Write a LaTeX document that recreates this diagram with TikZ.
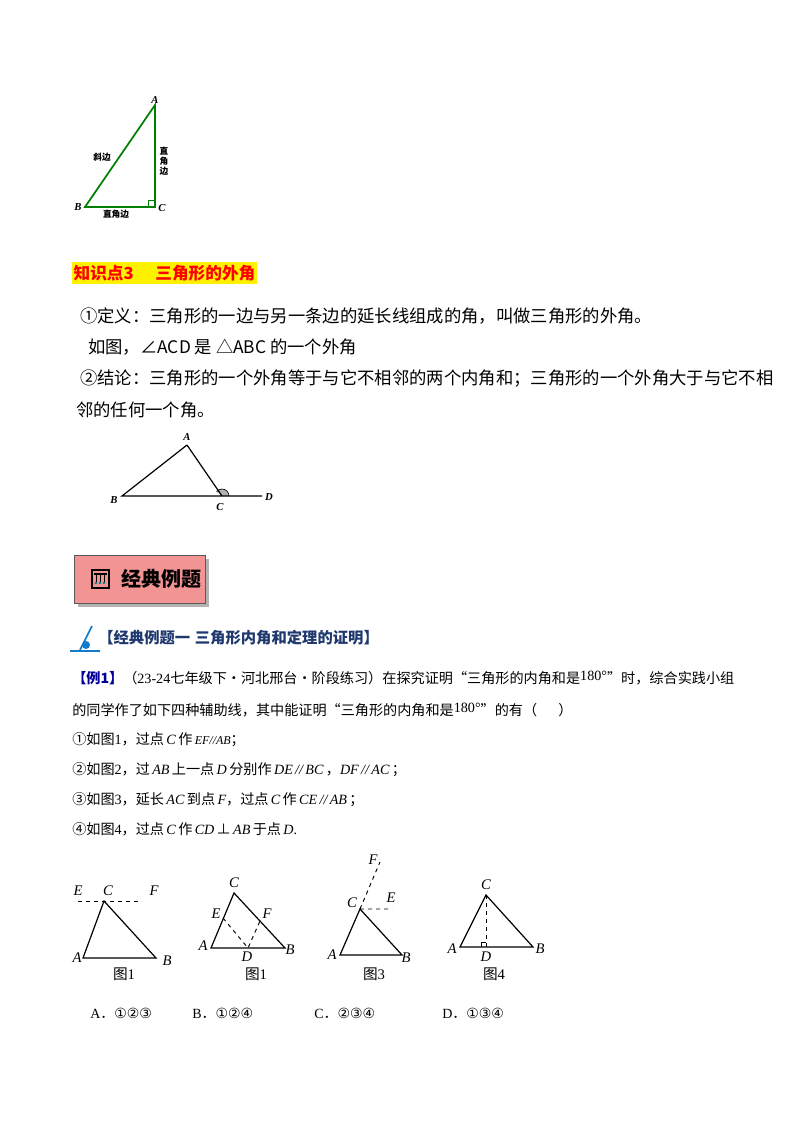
\documentclass[tikz,border=0pt]{standalone}
\usepackage{fontspec}
\setmainfont{Liberation Serif}
\newfontfamily\cjk{Noto Sans CJK SC}
\newfontfamily\sym{DejaVu Sans}
\newfontfamily\lat{Liberation Serif}
\newcommand\myit[1]{{\lat\itshape #1}}
\newcommand\myup[1]{{\lat #1}}
\begin{document}
\begin{tikzpicture}[x=0.75pt,y=-0.75pt,
  lab/.style={font=\fontsize{11}{11}\selectfont\itshape,inner sep=0pt},
  smlab/.style={font=\fontsize{8}{8}\selectfont\bfseries\itshape,inner sep=0pt},
  txt/.style={font=\fontsize{13}{13}\cjk,anchor=west,inner sep=0pt},
  etxt/.style={font=\fontsize{10.6}{12}\cjk,anchor=west,inner sep=0pt},
  tri/.style={draw=black,line width=0.9pt},
  dsh/.style={draw=black,dashed,line width=0.7pt}]
\useasboundingbox (0,0) rectangle (800,1132);
% figure 1: right triangle
\coordinate (A1) at (155,105); \coordinate (B1) at (85,207); \coordinate (C1) at (155,207);
\draw[green!50!black,line width=1.3pt] (A1)--(B1)--(C1)--cycle;
\draw[green!50!black,line width=0.5pt] (148,207)--(148,200)--(155,200);
\node[smlab] (la1) at (155,100) {A};
\node[smlab] (lb1) at (78,207) {B};
\node[smlab] (lc1) at (162,208) {C};
\node[font=\fontsize{6.5}{6.5}\cjk\bfseries,inner sep=0pt] (t1) at (102,157) {斜边};
\node[font=\fontsize{6.5}{7.5}\cjk\bfseries,inner sep=0pt,align=center] (t2) at (164,161) {直\\角\\边};
\node[font=\fontsize{6.5}{6.5}\cjk\bfseries,inner sep=0pt] (t3) at (116,214) {直角边};
% heading
\node[fill=yellow,text=red,font=\fontsize{12.5}{13}\cjk\bfseries,anchor=west,inner xsep=1pt,inner ysep=2pt] (h3) at (72,273) {知识点3\hspace{1.3em}三角形的外角};
\node[txt] (l1) at (80,316) {①定义：三角形的一边与另一条边的延长线组成的角，叫做三角形的外角。};
\node[txt] (l2) at (88,347) {如图，∠ACD 是 △ABC 的一个外角};
\node[txt] (l3) at (80,379) {②结论：三角形的一个外角等于与它不相邻的两个内角和；三角形的一个外角大于与它不相};
\node[txt] (l4) at (76,410) {邻的任何一个角。};
% figure 2
\coordinate (A2) at (187,445); \coordinate (B2) at (122,496); \coordinate (C2) at (222,496); \coordinate (D2) at (262,496);
\fill[gray!60] (222,496) -- (229,496) arc (0:-142:7) -- cycle;
\draw[line width=0.5pt] (229,496) arc (0:-142:7);
\draw[tri] (A2)--(B2)--(D2) (A2)--(C2);
\node[smlab] (la2) at (187,437) {A};
\node[smlab] (lb2) at (114,500) {B};
\node[smlab] (lc2) at (220,507) {C};
\node[smlab] (ld2) at (269,497) {D};
% box
\fill[gray!60] (78,559) rectangle (209,607);
\node[draw=gray!70!black,fill={rgb,255:red,242;green,148;blue,148},minimum width=131*0.75pt,minimum height=48*0.75pt,anchor=north west,inner sep=0pt] (box) at (74,555) {};
\node[font=\fontsize{15}{15}\cjk\bfseries,anchor=west,inner sep=0pt] (boxt) at (121,579) {经典例题};
\draw[line width=0.8pt] (92,570) rectangle (109,588) (94,574)--(107,574);
\foreach \x in {96,100,104}{\draw[line width=0.5pt] (\x,574)--(\x,582); \fill[teal] (\x,583) circle (1.3);}
% section heading
\draw[line width=1.2pt,cyan!60!blue] (80,650)--(92,626) (70,651)--(100,651);
\fill[cyan!60!blue] (86,645) circle (4);
\node[font=\fontsize{11.5}{12}\cjk\bfseries,text={rgb,255:red,31;green,56;blue,110},anchor=west,inner sep=0pt] (sh) at (98,638) {【经典例题一\hspace{0.3em}三角形内角和定理的证明】};
% example text
\node[etxt] (e1) at (72,678) {{\color{blue!60!black}\bfseries 【例1】}（\myup{23-24}七年级下·河北邢台·阶段练习）在探究证明“三角形的内角和是\raisebox{2pt}{\myup{180°}}”时，综合实践小组};
\node[etxt] (e2) at (72,710) {的同学作了如下四种辅助线，其中能证明“三角形的内角和是\raisebox{2pt}{\myup{180°}}”的有（\hspace{1.5em}）};
\node[etxt] (e3) at (72,740) {①如图\myup{1}，过点\,\myit{C}\,作\,{\fontsize{9}{9}\selectfont\myit{EF//AB}}；};
\node[etxt] (e4) at (72,770) {②如图\myup{2}，过\,\myit{AB}\,上一点\,\myit{D}\,分别作\,\myit{DE\,//\,BC}\,，\myit{DF\,//\,AC}\,；};
\node[etxt] (e5) at (72,800) {③如图\myup{3}，延长\,\myit{AC}\,到点\,\myit{F}，过点\,\myit{C}\,作\,\myit{CE\,//\,AB}\,；};
\node[etxt] (e6) at (72,829) {④如图\myup{4}，过点\,\myit{C}\,作\,\myit{CD}\,⊥\,\myit{AB}\,于点\,\myit{D}\myup{.}};
% fig a
\coordinate (Aa) at (83,958); \coordinate (Ba) at (156,958); \coordinate (Ca) at (104,901);
\coordinate (Ea) at (78,901); \coordinate (Fa) at (140,901);
\draw[dsh] (Ea)--(Fa);
\draw[tri] (Aa)--(Ba)--(Ca)--cycle;
\node[lab] (lEa) at (78,891) {E}; \node[lab] (lCa) at (108,891) {C}; \node[lab] (lFa) at (154,891) {F};
\node[lab] (lAa) at (77,958) {A}; \node[lab] (lBa) at (167,961) {B};
\node[font=\fontsize{11}{11}\selectfont,inner sep=0pt] (ga) at (124,974) {{\cjk 图}1};
% fig b
\coordinate (Ab) at (211,948); \coordinate (Bb) at (285,948); \coordinate (Cb) at (234,893);
\coordinate (Db) at (248,948); \coordinate (Eb) at (223,918); \coordinate (Fb) at (260,921);
\draw[dsh] (Eb)--(Db)--(Fb);
\draw[tri] (Ab)--(Bb)--(Cb)--cycle;
\node[lab] (lCb) at (234,883) {C}; \node[lab] (lEb) at (216,914) {E}; \node[lab] (lFb) at (267,914) {F};
\node[lab] (lAb) at (203,946) {A}; \node[lab] (lDb) at (247,957) {D}; \node[lab] (lBb) at (290,950) {B};
\node[font=\fontsize{11}{11}\selectfont,inner sep=0pt] (gb) at (256,974) {{\cjk 图}1};
% fig c
\coordinate (Ac) at (340,955); \coordinate (Bc) at (402,955); \coordinate (Cc) at (360,909);
\coordinate (Fc) at (380,862); \coordinate (Ec) at (392,909);
\draw[dsh] (Cc)--(Fc) (Cc)--(Ec);
\draw[tri] (Ac)--(Bc)--(Cc)--cycle;
\node[lab] (lFc) at (373,860) {F}; \node[lab] (lEc) at (391,898) {E}; \node[lab] (lCc) at (352,903) {C};
\node[lab] (lAc) at (332,955) {A}; \node[lab] (lBc) at (406,958) {B};
\node[font=\fontsize{11}{11}\selectfont,inner sep=0pt] (gc) at (374,974) {{\cjk 图}3};
% fig d
\coordinate (Ad) at (460,947); \coordinate (Bd) at (533,947); \coordinate (Cd) at (486,895); \coordinate (Dd) at (486,947);
\draw[dsh] (Cd)--(Dd);
\draw[line width=0.5pt] (481,947)--(481,942)--(486,942);
\draw[tri] (Ad)--(Bd)--(Cd)--cycle;
\node[lab] (lCd) at (486,885) {C}; \node[lab] (lAd) at (452,949) {A}; \node[lab] (lBd) at (540,949) {B};
\node[lab] (lDd) at (486,957) {D};
\node[font=\fontsize{11}{11}\selectfont,inner sep=0pt] (gd) at (494,974) {{\cjk 图}4};
% options
\node[txt,font=\fontsize{10.5}{11}\selectfont] (oA) at (90,1013) {A{\cjk ．}{\sym ①②③}};
\node[txt,font=\fontsize{10.5}{11}\selectfont] (oB) at (192,1013) {B{\cjk ．}{\sym ①②④}};
\node[txt,font=\fontsize{10.5}{11}\selectfont] (oC) at (314,1013) {C{\cjk ．}{\sym ②③④}};
\node[txt,font=\fontsize{10.5}{11}\selectfont] (oD) at (442,1013) {D{\cjk ．}{\sym ①③④}};
\end{tikzpicture}
\end{document}
